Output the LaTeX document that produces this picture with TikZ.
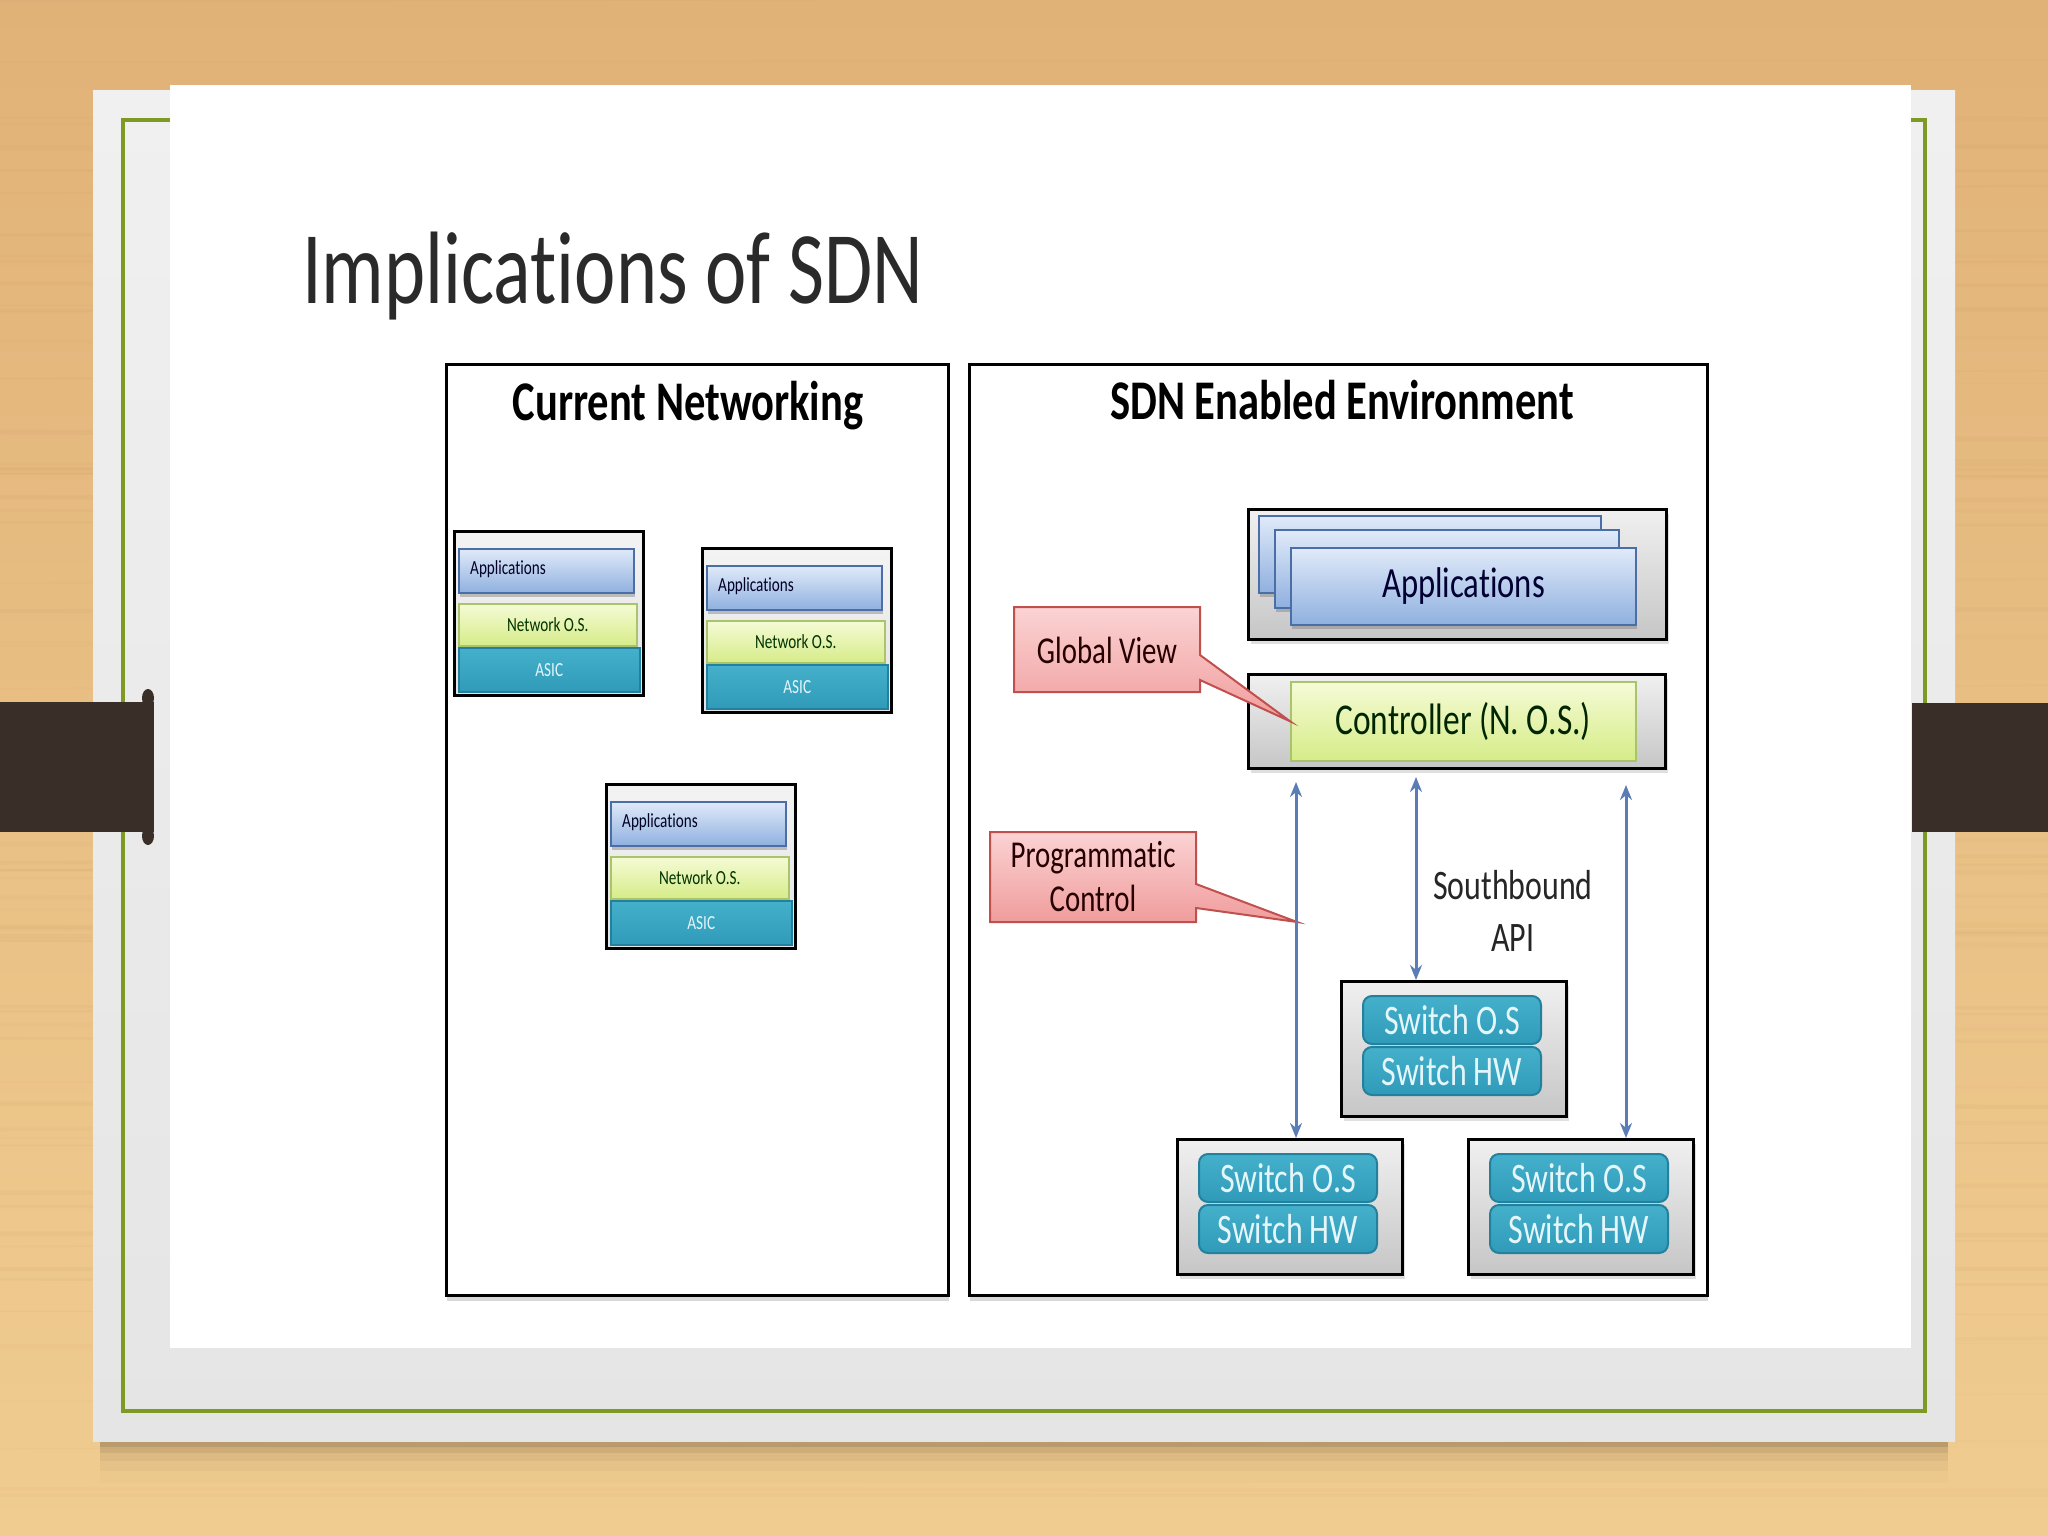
\documentclass[tikz,border=0pt]{standalone}
\usepackage{fontspec}
\setmainfont{Carlito}[FakeStretch=0.76, Ligatures=NoCommon]
\usetikzlibrary{arrows.meta,shadows,calc}
\definecolor{woodA}{HTML}{E1B278}
\definecolor{woodB}{HTML}{F0CC90}
\definecolor{woodS}{HTML}{B8895A}
\definecolor{cardT}{HTML}{F0F0F0}
\definecolor{cardB}{HTML}{E5E5E5}
\definecolor{frameC}{HTML}{7E9A25}
\definecolor{barC}{HTML}{3A2F28}
\definecolor{gtop}{HTML}{F0F0F0}
\definecolor{gbot}{HTML}{C6C6C6}
\definecolor{btop}{HTML}{E0EAF9}
\definecolor{bbot}{HTML}{8FB0DF}
\definecolor{bdraw}{HTML}{4B6EA6}
\definecolor{ytop}{HTML}{F5FBD6}
\definecolor{ybot}{HTML}{D6EC88}
\definecolor{ydraw}{HTML}{A9C46B}
\definecolor{tealT}{HTML}{45B0CB}
\definecolor{tealC}{HTML}{2F9BB9}
\definecolor{tealD}{HTML}{23819D}
\definecolor{ptop}{HTML}{FBD3D3}
\definecolor{pbot}{HTML}{F09C9C}
\definecolor{pdraw}{HTML}{C0504D}
\definecolor{arrC}{HTML}{5B7DB6}
\definecolor{titleC}{HTML}{2A2A2A}
\definecolor{lightT}{HTML}{E4F6FA}
\tikzset{
  panel/.style={draw=black, line width=3, fill=white,
    drop shadow={shadow xshift=0pt, shadow yshift=-5pt, opacity=0.3}},
  graybox/.style={draw=black, line width=3, top color=gtop, bottom color=gbot,
    drop shadow={shadow xshift=2pt, shadow yshift=-4pt, opacity=0.25}},
  minibox/.style={draw=black, line width=3, top color=gtop!80!white, bottom color=gtop!70!gbot},
  bluebar/.style={draw=bdraw, line width=2, top color=btop, bottom color=bbot,
    drop shadow={shadow xshift=1pt, shadow yshift=-4pt, opacity=0.45}},
  greenbar/.style={draw=ydraw, line width=1.5, top color=ytop, bottom color=ybot},
  tealbar/.style={draw=tealD, line width=1.5, top color=tealT, bottom color=tealC, text=lightT},
  swbar/.style={draw=tealD, line width=2, rounded corners=9, top color=tealT, bottom color=tealC,
    text=lightT, font=\fontsize{42}{46}\selectfont, inner sep=0},
  callout/.style={draw=pdraw, line width=2, top color=ptop, bottom color=pbot},
  dblarrow/.style={draw=arrC, line width=3,
    {Stealth[length=15pt,width=12pt]}-{Stealth[length=15pt,width=12pt]}},
  minitext/.style={font=\fontsize{20}{24}\selectfont, inner sep=0}
}
\newcommand\ministack[3]{%
  \node[minibox, anchor=north west, minimum width=189, minimum height=164] (#1) at (#2,#3) {};
  \node[bluebar, anchor=north west, minimum width=175, minimum height=44] (#1-app) at ({#2+5},{#3+18}) {};
  \node[minitext, anchor=west, text=black!85!blue] (#1-apptxt) at ($(#1-app.west)+(12,-2)$) {Applications};
  \node[greenbar, anchor=north west, minimum width=178, minimum height=42, minitext, text=black!80!green] (#1-nos) at ({#2+5},{#3+73}) {Network O.S.};
  \node[tealbar, anchor=north west, minimum width=181, minimum height=44, minitext, text=lightT] (#1-asic) at ({#2+5},{#3+117}) {ASIC};
}
\newcommand\switchbox[3]{%
  \node[graybox, anchor=north west, minimum width=225, minimum height=135] (#1) at (#2,#3) {};
  \node[swbar, anchor=north west, minimum width=178, minimum height=48] (#1-os) at ({#2+22},{#3+15}) {Switch O.S};
  \node[swbar, anchor=north west, minimum width=178, minimum height=48] (#1-hw) at ({#2+22},{#3+66}) {Switch HW};
}
\begin{document}
\begin{tikzpicture}[x=1pt,y=-1pt]
\useasboundingbox (0,0) rectangle (2048,1536);
% wood background
\shade[top color=woodA, bottom color=woodB] (0,0) rectangle (2048,1536);
\pgfmathsetseed{11}
\foreach \i in {1,...,70}{
  \pgfmathsetmacro\yy{rnd*1536}
  \pgfmathsetmacro\op{0.03+0.05*rnd}
  \pgfmathsetmacro\lw{1+4*rnd}
  \pgfmathsetmacro\dy{16*rnd-8}
  \draw[woodS, opacity=\op, line width=\lw] (0,\yy) -- (2048,\yy+\dy);
}
% card shadow
\foreach \d/\o in {6/0.14,12/0.09,20/0.06,30/0.035,42/0.02}
  \fill[black!60!woodS, opacity=\o] (100,1436) rectangle (1948,1441+\d);
% card
\shade[top color=cardT, bottom color=cardB] (93,91) rectangle (1955,1441);
\draw[frameC, line width=4] (123,120) rectangle (1925,1411);
% white slide
\fill[white] (170,85) rectangle (1911,1348);
% side bars
\fill[barC] (0,702) rectangle (154,832);
\fill[barC] (148,698) ellipse [x radius=6, y radius=9];
\fill[barC] (148,836) ellipse [x radius=6, y radius=9];
\fill[barC] (1912,703) rectangle (2048,832);
% title
\node[anchor=base west, inner sep=0, text=titleC, font=\fontsize{103}{110}\selectfont] (title) at (302,303) {Implications of SDN};
% panels
\node[panel, anchor=north west, minimum width=502, minimum height=931] (leftpanel) at (445,363) {};
\node[panel, anchor=north west, minimum width=738, minimum height=931] (rightpanel) at (968,363) {};
\node[anchor=base, inner sep=0, font=\fontsize{56}{60}\selectfont\bfseries] (lefttitle) at (688,420) {Current Networking};
\node[anchor=base, inner sep=0, font=\fontsize{56}{60}\selectfont\bfseries] (righttitle) at (1342,419) {SDN Enabled Environment};
% mini stacks
\ministack{sa}{453}{530}
\ministack{sb}{701}{547}
\ministack{sc}{605}{783}
% applications
\node[graybox, anchor=north west, minimum width=418, minimum height=130] (appsbox) at (1247,508) {};
\node[bluebar, anchor=north west, minimum width=342, minimum height=77] (app3) at (1258,515) {};
\node[bluebar, anchor=north west, minimum width=344, minimum height=78] (app2) at (1274,529) {};
\node[bluebar, anchor=north west, minimum width=345, minimum height=77, text=black!80!blue, font=\fontsize{43}{46}\selectfont] (app1) at (1290,547) {Applications};
% controller
\node[graybox, anchor=north west, minimum width=417, minimum height=94] (ctrlbox) at (1247,673) {};
\node[greenbar, anchor=north west, minimum width=345, minimum height=79, text=black!85!green, font=\fontsize{44}{46}\selectfont] (ctrl) at (1290,681) {Controller (N. O.S.)};
% switches
\switchbox{swm}{1340}{980}
\switchbox{swl}{1176}{1138}
\switchbox{swr}{1467}{1138}
% callouts
\coordinate (gvtip) at (ctrl.west);
\shadedraw[callout] (1014,607) -- (1200,607) -- (1200,655) -- (gvtip) -- (1200,680) -- (1200,692) -- (1014,692) -- cycle;
\node[inner sep=0, text=black!85!red, font=\fontsize{38}{44}\selectfont] (gvtext) at (1107,650) {Global View};
\coordinate (pctip) at (1297,922);
\shadedraw[callout] (990,832) -- (1196,832) -- (1196,884) -- (pctip) -- (1196,908) -- (1196,922) -- (990,922) -- cycle;
\node[inner sep=0, align=center, text=black!85!red, font=\fontsize{38}{44}\selectfont] (pctext) at (1093,877) {Programmatic\\Control};
% southbound arrows
\coordinate (a1) at (1296,782);
\coordinate (a2) at (1416,777);
\coordinate (a3) at (1626,785);
\draw[dblarrow] (a1) -- (a1 |- swl.north);
\draw[dblarrow] (a2) -- (a2 |- swm.north);
\draw[dblarrow] (a3) -- (a3 |- swr.north);
\node[inner sep=0, align=center, text=black!85, font=\fontsize{42}{52}\selectfont] (sbapi) at (1513,911) {Southbound\\API};
\end{tikzpicture}
\end{document}
